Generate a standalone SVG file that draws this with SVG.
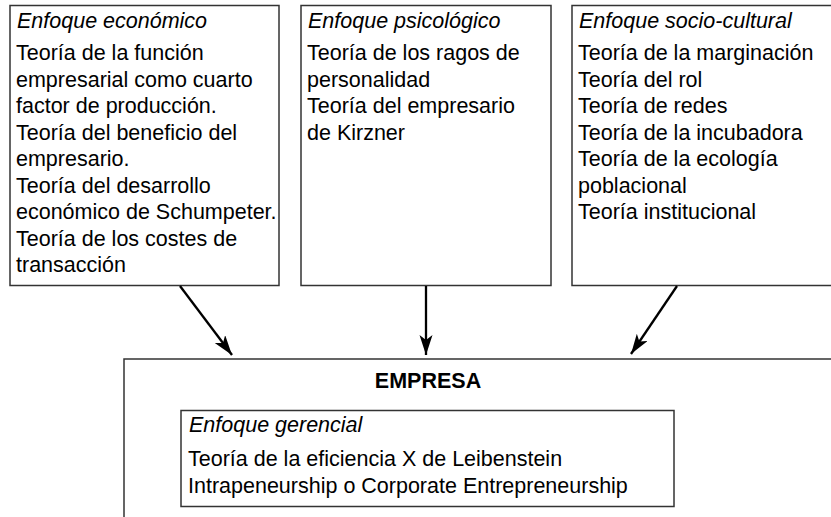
<svg xmlns="http://www.w3.org/2000/svg" width="831" height="517" viewBox="0 0 831 517">
  <defs>
    <style>
      .box { fill: #ffffff; stroke: #333333; stroke-width: 1.5; }
      .t { font-family: "Liberation Sans", Arial, Helvetica, sans-serif; font-size: 21.5px; fill: #000000; }
      .h { font-style: italic; }
      .b { font-weight: bold; }
      .conn { stroke: #000000; stroke-width: 2.3; fill: none; }
    </style>
    <marker id="arrow" markerUnits="userSpaceOnUse" markerWidth="22" markerHeight="14" refX="20" refY="6.5" orient="auto">
      <path d="M0,0 L20,6.5 L0,13 L5,6.5 Z" fill="#000000"/>
    </marker>
  </defs>
  <rect width="831" height="517" fill="#ffffff"/>

  <g id="economico">
    <rect class="box" x="10" y="5.5" width="269" height="280"/>
    <text class="t h" x="17" y="28">Enfoque económico</text>
    <text class="t" x="16" y="60">Teoría de la función</text>
    <text class="t" x="16" y="86.5">empresarial como cuarto</text>
    <text class="t" x="16" y="113">factor de producción.</text>
    <text class="t" x="16" y="139.5">Teoría del beneficio del</text>
    <text class="t" x="16" y="166">empresario.</text>
    <text class="t" x="16" y="192.5">Teoría del desarrollo</text>
    <text class="t" x="16" y="219">económico de Schumpeter.</text>
    <text class="t" x="16" y="245.5">Teoría de los costes de</text>
    <text class="t" x="16" y="272">transacción</text>
  </g>

  <g id="psicologico">
    <rect class="box" x="301" y="5.5" width="250" height="280"/>
    <text class="t h" x="308" y="28">Enfoque psicológico</text>
    <text class="t" x="307" y="60">Teoría de los ragos de</text>
    <text class="t" x="307" y="86.5">personalidad</text>
    <text class="t" x="307" y="113">Teoría del empresario</text>
    <text class="t" x="307" y="139.5">de Kirzner</text>
  </g>

  <g id="sociocultural">
    <rect class="box" x="572" y="5.5" width="280" height="280"/>
    <text class="t h" x="579" y="28">Enfoque socio-cultural</text>
    <text class="t" x="578" y="60">Teoría de la marginación</text>
    <text class="t" x="578" y="86.5">Teoría del rol</text>
    <text class="t" x="578" y="113">Teoría de redes</text>
    <text class="t" x="578" y="139.5">Teoría de la incubadora</text>
    <text class="t" x="578" y="166">Teoría de la ecología</text>
    <text class="t" x="578" y="192.5">poblacional</text>
    <text class="t" x="578" y="219">Teoría institucional</text>
  </g>

  <g id="empresa">
    <rect class="box" x="124" y="359" width="740" height="200"/>
    <text class="t b" x="428" y="388" text-anchor="middle">EMPRESA</text>
  </g>

  <g id="gerencial">
    <rect class="box" x="181" y="410.5" width="493" height="96"/>
    <text class="t h" x="189" y="432">Enfoque gerencial</text>
    <text class="t" x="188" y="466">Teoría de la eficiencia X de Leibenstein</text>
    <text class="t" x="188" y="493">Intrapeneurship o Corporate Entrepreneurship</text>
  </g>

  <g id="connectors">
    <line class="conn" x1="180" y1="286" x2="232" y2="355" marker-end="url(#arrow)"/>
    <line class="conn" x1="426" y1="286" x2="426" y2="355" marker-end="url(#arrow)"/>
    <line class="conn" x1="677" y1="286" x2="631" y2="354" marker-end="url(#arrow)"/>
  </g>
</svg>
